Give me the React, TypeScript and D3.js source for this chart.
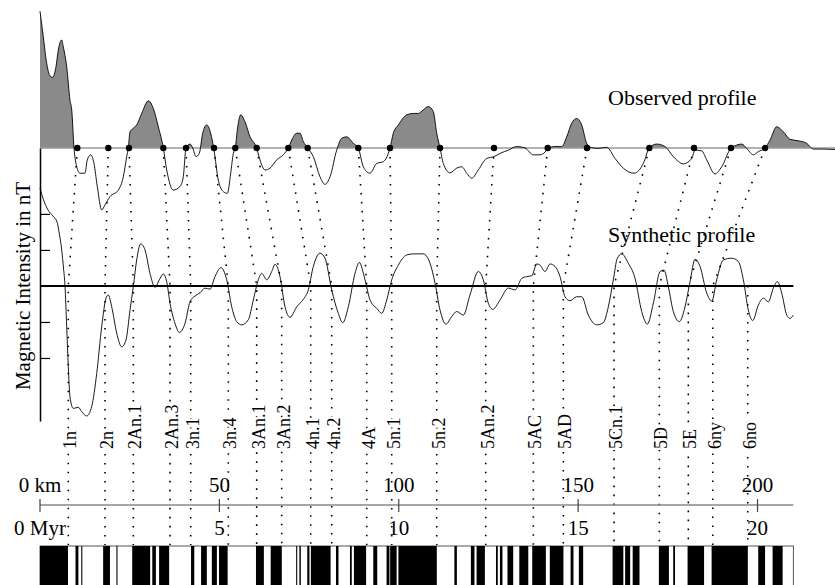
import React, { useEffect, useRef } from "react";
import * as d3 from "d3";

// observed anomaly along the profile: [distance km, nT]
const observedProfile = [
  [0, 380], [0.92, 309], [1.87, 235], [2.79, 200], [3.54, 196], [4.46, 226], [5.1, 272], [6.05, 300],
  [6.49, 281], [7.44, 226], [8.36, 133], [8.84, 106], [9.48, 0], [10.23, -52], [11.15, -70], [12.54, -70],
  [13.18, -33], [14.13, -19], [15.05, -43], [15.97, -107], [17.2, -172], [18.12, -158], [19.51, -135],
  [21.83, -117], [23.22, -80], [24.17, -24], [24.61, 0], [25.09, 45], [26.01, 55], [26.95, 64], [28.35, 96],
  [30.19, 131], [31.58, 110], [32.98, 59], [34.37, 0], [35.32, -61], [37.16, -117], [39.02, -107],
  [39.94, -80], [40.7, 0], [41.81, 11], [42.56, 0], [43.48, -24], [44.4, -15], [45.35, 41], [46.47, 64],
  [47.58, 41], [48.5, -6], [49.7, -89], [51.09, -121], [52.21, -126], [53.16, -70], [53.88, -15], [54.44, 0],
  [55, 50], [55.94, 92], [57.14, 73], [58.54, 31], [60.4, 0], [61.32, -33], [62.72, -61], [64.11, -56],
  [65.98, -33], [67.82, -19], [69.21, 0], [70.16, 22], [71.55, 41], [72.47, 41], [73.39, 18], [74.62, 0],
  [76.18, -24], [78.05, -80], [79.44, -101], [80.84, -80], [82.7, -6], [84.1, 27], [85.49, 31], [87.33, 13],
  [88.72, 0], [90.12, -52], [91.99, -70], [93.85, -43], [95.69, -38], [97.09, -15], [97.56, 0], [98.48, 41],
  [99.88, 64], [102.22, 92], [104.06, 96], [105.45, 96], [106.84, 106], [108.24, 115], [109.63, 101],
  [110.58, 41], [111.5, 0], [112.42, -43], [114.29, -69], [116.15, -56], [117.55, -52], [118.94, -70],
  [120.33, -84], [122.17, -61], [124.52, -29], [126.55, -24], [128.22, -15], [130.54, -6], [132.88, 4],
  [135.19, 0], [137.51, -19], [139.37, -19], [141.24, -6], [141.69, 0], [143.55, 4], [145.42, 4],
  [146.81, 31], [148.21, 69], [149.6, 82], [151, 64], [152.39, 13], [153.78, 1], [155.62, -1], [157.96, 2],
  [160.28, -29], [162.59, -56], [165.57, -70], [168.17, -43], [169.84, 0], [171.9, 11], [174.22, 4],
  [176.53, -24], [179.32, -44], [181.66, -29], [182.58, -6], [184.45, -8], [185.84, -33], [188.15, -72],
  [190.02, -52], [192.61, 0], [194.2, 8], [195.6, 11], [196.99, -1], [198.83, -19], [200.22, -10],
  [202.09, 0], [203.48, 22], [205.35, 59], [207.19, 45], [209.06, 24], [211.37, 20], [213.71, 13],
  [215.55, -3], [218.34, -3], [221.6, -4],
];

// synthetic anomaly from the reversal model: [distance km, nT]
const syntheticProfile = [
  [0, 272], [0.98, 239], [2.23, 211], [3.62, 194], [4.74, 178], [5.3, 150], [6.05, 100], [6.55, 50],
  [6.97, 0], [7.44, -113], [7.89, -224], [8.36, -308], [9.28, -340], [10.68, -337], [11.62, -349],
  [13.02, -361], [14.41, -335], [15.81, -243], [17.2, -113], [18.4, -34], [19.04, -25], [19.99, -58],
  [21.38, -131], [22.77, -169], [23.97, -150], [25.09, -67], [26.01, -2], [26.95, 72], [28.07, 117],
  [29.27, 100], [30.66, 35], [32.06, -4], [33.25, 17], [34.37, 33], [35.32, 12], [36.24, -48],
  [37.63, -104], [38.83, -129], [40.42, -104], [41.81, -44], [43.21, -28], [44.6, -19], [45.99, -6],
  [47.39, -9], [48.78, 26], [50.45, 51], [52.04, 17], [53.44, -58], [54.83, -99], [56.22, -108],
  [58.06, -94], [59.46, -39], [60.85, 17], [61.8, 35], [63.19, 17], [64.59, 40], [65.51, 60], [66.9, 26],
  [68.29, -58], [69.69, -87], [71.56, -58], [73.4, -37], [74.79, -11], [76.18, 54], [78.05, 91],
  [79.44, 77], [81.31, -11], [83.15, -76], [84.38, -102], [85.94, -58], [87.81, 35], [89.01, 65],
  [90.59, 17], [91.99, -39], [93.85, -62], [95.25, -76], [96.64, -39], [98.04, 17], [99.88, 58],
  [102.22, 86], [104.06, 89], [106.84, 89], [108.71, 63], [110.11, 8], [111.5, -67], [113.17, -106],
  [114.76, -85], [116.15, -71], [117.99, -81], [119.86, -25], [122.18, 40], [123.57, 17], [124.96, -48],
  [126.19, -65], [128.23, -39], [130.54, -6], [132.41, -11], [134.28, 21], [135.67, 26], [137.06, 28],
  [138.46, 61], [139.38, 58], [140.77, 40], [142.16, 61], [143.56, 54], [144.95, 26], [146.34, -30],
  [147.74, -41], [149.6, -30], [151, -30], [152.84, -81], [155.18, -108], [157.02, -102], [158.41, -58],
  [159.81, 17], [160.92, 77], [162.15, 89], [163.99, 63], [165.86, 21], [167.72, -71], [169.29, -106],
  [170.96, -48], [172.83, 40], [173.94, 44], [175.14, -2], [176.53, -71], [178.21, -99], [179.79, -58],
  [181.19, 12], [182.58, 74], [183.98, 54], [185.85, -20], [187.24, -42], [188.63, 17], [190.47, 72],
  [192.81, 77], [194.65, 68], [196.05, 17], [197.44, -67], [198.67, -96], [200.23, -53], [201.62, -34],
  [203.02, -44], [204.41, -6], [205.53, 12], [206.75, -20], [208.15, -81], [209.06, -90], [209.98, -81],
];

// chron names and their positions on the synthetic profile (km)
const chronNames = [
  "1n", "2n", "2An.1", "2An.3", "3n.1", "3n.4", "3An.1", "3An.2", "4n.1", "4n.2", "4A",
  "5n.1", "5n.2", "5An.2", "5AC", "5AD", "5Cn.1", "5D", "5E", "6ny", "6no",
];
const chronKm = [
  7.89, 18.12, 26.01, 36.24, 42.01, 52.49, 60.4, 67.37, 75.46, 81.31, 91.07,
  98.04, 110.58, 124.24, 137.51, 145.87, 160.0, 172.63, 180.71, 187.52, 197.27,
];
// picks on the observed profile (km), one per chron except 6no
const pickKm = [
  10.4, 19.04, 24.81, 34.37, 40.7, 48.5, 54.44, 60.4, 69.21, 74.62,
  88.72, 97.56, 111.5, 126.55, 141.52, 152.48, 169.84, 182.3, 192.61, 202.09,
];

// normal polarity intervals (Myr)
const normalPolarity = [
  [0, 0.78], [0.99, 1.07], [1.15, 1.18], [1.76, 1.95], [2.13, 2.16], [2.57, 3.07], [3.13, 3.23],
  [3.32, 3.6], [4.21, 4.3], [4.49, 4.65], [4.79, 4.93], [4.99, 5.23], [6.02, 6.24], [6.43, 6.74],
  [7.14, 7.17], [7.23, 7.27], [7.45, 7.51], [7.55, 8.1], [8.25, 8.32], [8.64, 8.69], [8.75, 9.09],
  [9.29, 9.4], [9.66, 9.74], [9.76, 9.94], [9.99, 11.06], [11.55, 11.62], [12.01, 12.11], [12.17, 12.4],
  [12.71, 12.76], [12.82, 12.89], [13.03, 13.19], [13.36, 13.61], [13.72, 14.1], [14.21, 14.59],
  [14.79, 14.87], [15.02, 15.14], [15.96, 16.26], [16.31, 16.45], [16.52, 16.71], [17.25, 17.53],
  [17.65, 17.7], [18.05, 18.51], [18.72, 19.73], [20.02, 20.21], [20.42, 20.7],
];

const kmTicks = [0, 50, 100, 150, 200];
const myrTicks = [0, 5, 10, 15, 20];
const nTTicks = [-200, -100, 0, 100, 200];

const serif = '"Liberation Serif", "Times New Roman", serif';

const App = () => {
  const axisRef = useRef(null);

  const x = d3.scaleLinear().domain([0, 210]).range([40, 793.4]);
  const xMyr = d3.scaleLinear().domain([0, 21]).range([40, 793.4]);
  const ySyn = d3.scaleLinear().domain([-375, 383]).range([421, 148]);
  const yObs = d3.scaleLinear().domain([0, 411]).range([148, 0]);

  const axisY = 505;
  const barTop = 546;

  useEffect(() => {
    const g = d3.select(axisRef.current);
    g.selectAll("*").remove();
    g.call(
      d3.axisRight(ySyn).tickValues(nTTicks).tickSize(10).tickSizeOuter(0).tickFormat(() => "")
    );
    g.select(".domain").attr("stroke", "#000").attr("stroke-width", 1.5);
    g.selectAll(".tick line").attr("stroke", "#000").attr("stroke-width", 1.2);
  }, []);

  const obsLine = d3.line().x((d) => x(d[0])).y((d) => yObs(d[1])).curve(d3.curveMonotoneX);
  const obsArea = d3
    .area()
    .x((d) => x(d[0]))
    .y0(yObs(0))
    .y1((d) => yObs(d[1]))
    .curve(d3.curveMonotoneX);
  const synLine = d3.line().x((d) => x(d[0])).y((d) => ySyn(d[1])).curve(d3.curveMonotoneX);

  // dotted correlation lines: pick -> chron on the synthetic zero -> down to the barcode
  const links = chronKm.map((c, i) => {
    const pts = [];
    if (i < pickKm.length) pts.push([x(pickKm[i]), yObs(0)]);
    pts.push([x(c), ySyn(0)]);
    pts.push([x(c), barTop - 1]);
    return d3.line()(pts);
  });

  return (
    <svg
      width={835}
      height={585}
      style={{ position: "absolute", left: 0, top: 0, background: "#fff" }}
      fontFamily={serif}
    >
      <defs>
        <clipPath id="above">
          <rect x={0} y={0} width={835} height={yObs(0)} />
        </clipPath>
      </defs>

      {/* observed profile */}
      <path d={obsArea(observedProfile)} fill="#8a8a8a" clipPath="url(#above)" />
      <line x1={x(0)} x2={835} y1={yObs(0)} y2={yObs(0)} stroke="#999" strokeWidth={1.5} />
      <path d={obsLine(observedProfile)} fill="none" stroke="#000" strokeWidth={0.9} />

      {/* synthetic profile */}
      <line x1={x(0)} x2={x(210)} y1={ySyn(0)} y2={ySyn(0)} stroke="#000" strokeWidth={2} />
      <path d={synLine(syntheticProfile)} fill="none" stroke="#000" strokeWidth={0.9} />

      {/* correlation lines */}
      {links.map((d, i) => (
        <path
          key={"l" + i}
          d={d}
          fill="none"
          stroke="#000"
          strokeWidth={1.6}
          strokeDasharray="1.6,7.4"
        />
      ))}
      {pickKm.map((k, i) => (
        <circle key={"p" + i} cx={x(k)} cy={yObs(0)} r={3.2} fill="#000" />
      ))}

      <g ref={axisRef} transform={`translate(${x(0)},0)`} />

      {/* chron labels */}
      {chronNames.map((n, i) => (
        <text
          key={"c" + i}
          transform={`translate(${x(chronKm[i]) + 1.5},449) rotate(-90)`}
          dy="0.35em"
          fontSize={18}
          stroke="#fff"
          strokeWidth={5}
          paintOrder="stroke"
          fill="#000"
        >
          {n}
        </text>
      ))}

      <text x={608} y={105} fontSize={22}>Observed profile</text>
      <text x={608} y={242} fontSize={22}>Synthetic profile</text>
      <text
        transform={`translate(30,${ySyn(0)}) rotate(-90)`}
        textAnchor="middle"
        fontSize={21}
      >
        Magnetic Intensity in nT
      </text>

      {/* distance / age axis */}
      <line x1={x(0)} x2={x(210)} y1={axisY} y2={axisY} stroke="#888" strokeWidth={1.5} />
      {kmTicks.map((k) => (
        <g key={"k" + k}>
          <line x1={x(k)} x2={x(k)} y1={axisY - 6} y2={axisY + 7} stroke="#444" strokeWidth={1.2} />
          <text x={x(k)} y={492} textAnchor="middle" fontSize={21}>
            {k === 0 ? "0 km" : k}
          </text>
        </g>
      ))}
      {myrTicks.map((m) => (
        <text key={"m" + m} x={xMyr(m)} y={535} textAnchor="middle" fontSize={21}>
          {m === 0 ? "0 Myr" : m}
        </text>
      ))}

      {/* polarity barcode */}
      <rect x={x(0)} y={barTop} width={x(210) - x(0)} height={60} fill="#fff" stroke="#555" strokeWidth={1} />
      {normalPolarity.map((d, i) => (
        <rect
          key={"b" + i}
          x={xMyr(d[0])}
          y={barTop}
          width={xMyr(d[1]) - xMyr(d[0])}
          height={60}
          fill="#000"
        />
      ))}
    </svg>
  );
};

export default App;
